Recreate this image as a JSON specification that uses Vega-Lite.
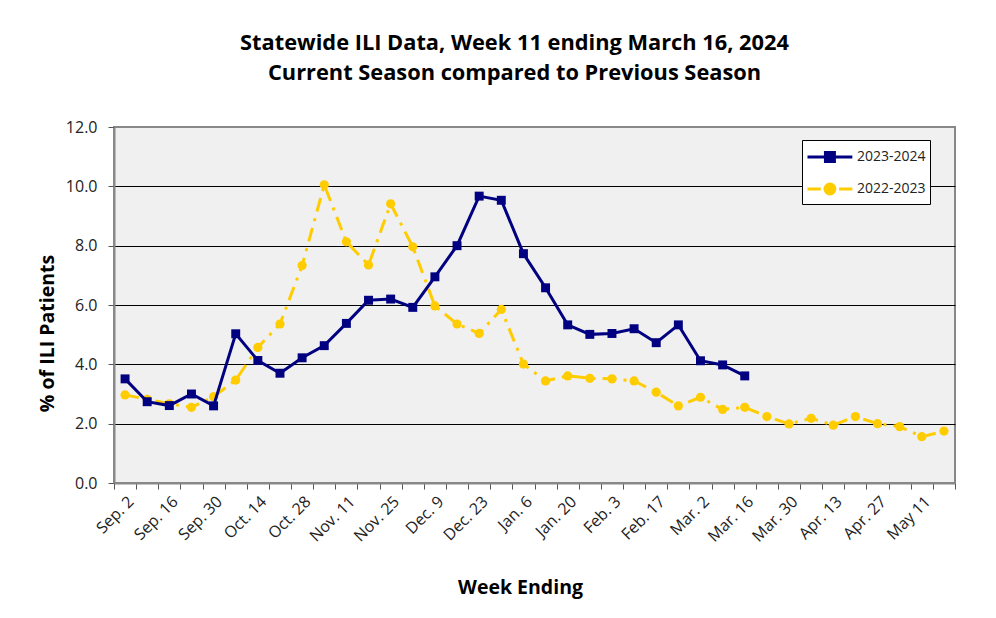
{
  "$schema": "https://vega.github.io/schema/vega-lite/v6.json",
  "width": 841,
  "height": 356,
  "autosize": {"type": "none"},
  "padding": {"left": 114, "top": 127, "right": 41, "bottom": 135},
  "background": "white",
  "config": {
    "font": "Open Sans",
    "view": {"fill": "#F0F0F0", "stroke": "#888888", "strokeWidth": 2}
  },
  "title": {
    "text": ["Statewide ILI Data, Week 11 ending March 16, 2024", "Current Season compared to Previous Season"],
    "fontSize": 21.8,
    "fontWeight": "bold",
    "font": "Open Sans",
    "color": "#000000",
    "lineHeight": 30,
    "offset": 34,
    "anchor": "middle",
    "dx": -20
  },
  "datasets": {
    "ili": [
      {"week": "Sep. 2", "season": "2022-2023", "pct": 2.97},
      {"week": "Sep. 9", "season": "2022-2023", "pct": 2.82},
      {"week": "Sep. 16", "season": "2022-2023", "pct": 2.67},
      {"week": "Sep. 23", "season": "2022-2023", "pct": 2.55},
      {"week": "Sep. 30", "season": "2022-2023", "pct": 2.91},
      {"week": "Oct. 7", "season": "2022-2023", "pct": 3.47},
      {"week": "Oct. 14", "season": "2022-2023", "pct": 4.57},
      {"week": "Oct. 21", "season": "2022-2023", "pct": 5.36},
      {"week": "Oct. 28", "season": "2022-2023", "pct": 7.33},
      {"week": "Nov. 4", "season": "2022-2023", "pct": 10.05},
      {"week": "Nov. 11", "season": "2022-2023", "pct": 8.13},
      {"week": "Nov. 18", "season": "2022-2023", "pct": 7.35},
      {"week": "Nov. 25", "season": "2022-2023", "pct": 9.41},
      {"week": "Dec. 2", "season": "2022-2023", "pct": 7.96},
      {"week": "Dec. 9", "season": "2022-2023", "pct": 5.97},
      {"week": "Dec. 16", "season": "2022-2023", "pct": 5.36},
      {"week": "Dec. 23", "season": "2022-2023", "pct": 5.04},
      {"week": "Dec. 30", "season": "2022-2023", "pct": 5.85},
      {"week": "Jan. 6", "season": "2022-2023", "pct": 4.01},
      {"week": "Jan. 13", "season": "2022-2023", "pct": 3.44},
      {"week": "Jan. 20", "season": "2022-2023", "pct": 3.61},
      {"week": "Jan. 27", "season": "2022-2023", "pct": 3.53},
      {"week": "Feb. 3", "season": "2022-2023", "pct": 3.51},
      {"week": "Feb. 10", "season": "2022-2023", "pct": 3.44},
      {"week": "Feb. 17", "season": "2022-2023", "pct": 3.06},
      {"week": "Feb. 24", "season": "2022-2023", "pct": 2.6},
      {"week": "Mar. 2", "season": "2022-2023", "pct": 2.89},
      {"week": "Mar. 9", "season": "2022-2023", "pct": 2.48},
      {"week": "Mar. 16", "season": "2022-2023", "pct": 2.55},
      {"week": "Mar. 23", "season": "2022-2023", "pct": 2.24},
      {"week": "Mar. 30", "season": "2022-2023", "pct": 1.99},
      {"week": "Apr. 6", "season": "2022-2023", "pct": 2.18},
      {"week": "Apr. 13", "season": "2022-2023", "pct": 1.95},
      {"week": "Apr. 20", "season": "2022-2023", "pct": 2.24},
      {"week": "Apr. 27", "season": "2022-2023", "pct": 2.0},
      {"week": "May 4", "season": "2022-2023", "pct": 1.9},
      {"week": "May 11", "season": "2022-2023", "pct": 1.56},
      {"week": "May 18", "season": "2022-2023", "pct": 1.75},
      {"week": "Sep. 2", "season": "2023-2024", "pct": 3.51},
      {"week": "Sep. 9", "season": "2023-2024", "pct": 2.74},
      {"week": "Sep. 16", "season": "2023-2024", "pct": 2.61},
      {"week": "Sep. 23", "season": "2023-2024", "pct": 3.0},
      {"week": "Sep. 30", "season": "2023-2024", "pct": 2.6},
      {"week": "Oct. 7", "season": "2023-2024", "pct": 5.03},
      {"week": "Oct. 14", "season": "2023-2024", "pct": 4.13},
      {"week": "Oct. 21", "season": "2023-2024", "pct": 3.7},
      {"week": "Oct. 28", "season": "2023-2024", "pct": 4.22},
      {"week": "Nov. 4", "season": "2023-2024", "pct": 4.63},
      {"week": "Nov. 11", "season": "2023-2024", "pct": 5.38},
      {"week": "Nov. 18", "season": "2023-2024", "pct": 6.16},
      {"week": "Nov. 25", "season": "2023-2024", "pct": 6.2},
      {"week": "Dec. 2", "season": "2023-2024", "pct": 5.92},
      {"week": "Dec. 9", "season": "2023-2024", "pct": 6.95},
      {"week": "Dec. 16", "season": "2023-2024", "pct": 8.0},
      {"week": "Dec. 23", "season": "2023-2024", "pct": 9.67},
      {"week": "Dec. 30", "season": "2023-2024", "pct": 9.53},
      {"week": "Jan. 6", "season": "2023-2024", "pct": 7.73},
      {"week": "Jan. 13", "season": "2023-2024", "pct": 6.58},
      {"week": "Jan. 20", "season": "2023-2024", "pct": 5.33},
      {"week": "Jan. 27", "season": "2023-2024", "pct": 5.01},
      {"week": "Feb. 3", "season": "2023-2024", "pct": 5.04},
      {"week": "Feb. 10", "season": "2023-2024", "pct": 5.2},
      {"week": "Feb. 17", "season": "2023-2024", "pct": 4.73},
      {"week": "Feb. 24", "season": "2023-2024", "pct": 5.33},
      {"week": "Mar. 2", "season": "2023-2024", "pct": 4.12},
      {"week": "Mar. 9", "season": "2023-2024", "pct": 3.98},
      {"week": "Mar. 16", "season": "2023-2024", "pct": 3.61}
    ]
  },
  "data": {"name": "ili"},
  "encoding": {
    "x": {
      "field": "week",
      "type": "ordinal",
      "sort": null,
      "bandPosition": 0.5,
      "scale": {"type": "band", "paddingInner": 0, "paddingOuter": 0},
      "axis": {
        "title": "Week Ending",
        "titleFontSize": 19.5,
        "titleFontWeight": "bold",
        "titleColor": "#000000",
        "titleX": 406,
        "titleY": 110,
        "titleAlign": "center",
        "titleBaseline": "alphabetic",
        "labelAngle": -45,
        "labelFontSize": 16,
        "labelColor": "#222222",
        "labelPadding": 4,
        "labelOverlap": false,
        "tickBand": "extent",
        "tickColor": "#555555",
        "tickSize": 6,
        "domainColor": "#888888",
        "domainWidth": 2,
        "grid": false,
        "labelExpr": "indexof(['Sep. 9','Sep. 23','Oct. 7','Oct. 21','Nov. 4','Nov. 18','Dec. 2','Dec. 16','Dec. 30','Jan. 13','Jan. 27','Feb. 10','Feb. 24','Mar. 9','Mar. 23','Apr. 6','Apr. 20','May 4','May 18'], datum.value) >= 0 ? '' : datum.value"
      }
    },
    "y": {
      "field": "pct",
      "type": "quantitative",
      "scale": {"domain": [0, 12], "nice": false},
      "axis": {
        "title": "% of ILI Patients",
        "titleFontSize": 19.5,
        "titleFontWeight": "bold",
        "titleColor": "#000000",
        "titleAngle": -90,
        "titleX": -61,
        "titleY": 206,
        "titleAlign": "center",
        "titleBaseline": "alphabetic",
        "values": [0, 2, 4, 6, 8, 10, 12],
        "format": ".1f",
        "labelFontSize": 16,
        "labelColor": "#222222",
        "labelPadding": 11,
        "tickColor": "#555555",
        "tickSize": 6,
        "domainColor": "#888888",
        "domainWidth": 2,
        "grid": true,
        "gridColor": {"condition": {"test": "datum.value == 0 || datum.value == 12", "value": "#888888"}, "value": "#000000"},
        "gridWidth": 1.2
      }
    },
    "color": {
      "field": "season",
      "type": "nominal",
      "scale": {"domain": ["2023-2024", "2022-2023"], "range": ["#000080", "#FFCC00"]},
      "legend": {
        "title": null,
        "orient": "none",
        "legendX": 688,
        "legendY": 13,
        "fillColor": "#FFFFFF",
        "strokeColor": "#000000",
        "padding": 4,
        "rowPadding": 8,
        "symbolSize": 529,
        "symbolType": "M-1,0H2.9",
        "symbolStrokeWidth": 3,
        "labelFontSize": 14,
        "labelColor": "#222222",
        "labelOffset": 25,
        "labelLimit": 200,
        "encode": {
          "symbols": {
            "update": {
              "shape": {"signal": "datum.value === '2023-2024' ? 'M-1,0H2.9M0.56,-0.39H1.34V0.39H0.56Z' : 'M-1,0H0.15M1.75,0H2.9M0.52,0A0.43,0.43 0 1,0 1.38,0A0.43,0.43 0 1,0 0.52,0Z'"},
              "size": {"value": 529},
              "fill": {"signal": "datum.value === '2023-2024' ? '#000080' : '#FFCC00'"},
              "stroke": {"signal": "datum.value === '2023-2024' ? '#000080' : '#FFCC00'"},
              "strokeWidth": {"value": 3},
              "opacity": {"value": 1}
            }
          }
        }
      }
    }
  },
  "layer": [
    {
      "transform": [{"filter": "datum.season === '2022-2023'"}],
      "mark": {"type": "line", "strokeWidth": 3, "strokeJoin": "miter", "strokeDash": [14, 7, 3, 7]}
    },
    {
      "transform": [{"filter": "datum.season === '2022-2023'"}],
      "mark": {"type": "point", "filled": true, "opacity": 1, "size": 85, "shape": "circle"}
    },
    {
      "transform": [{"filter": "datum.season === '2023-2024'"}],
      "mark": {"type": "line", "strokeWidth": 3, "strokeJoin": "miter"}
    },
    {
      "transform": [{"filter": "datum.season === '2023-2024'"}],
      "mark": {"type": "point", "filled": true, "opacity": 1, "size": 80, "shape": "square"}
    }
  ]
}
